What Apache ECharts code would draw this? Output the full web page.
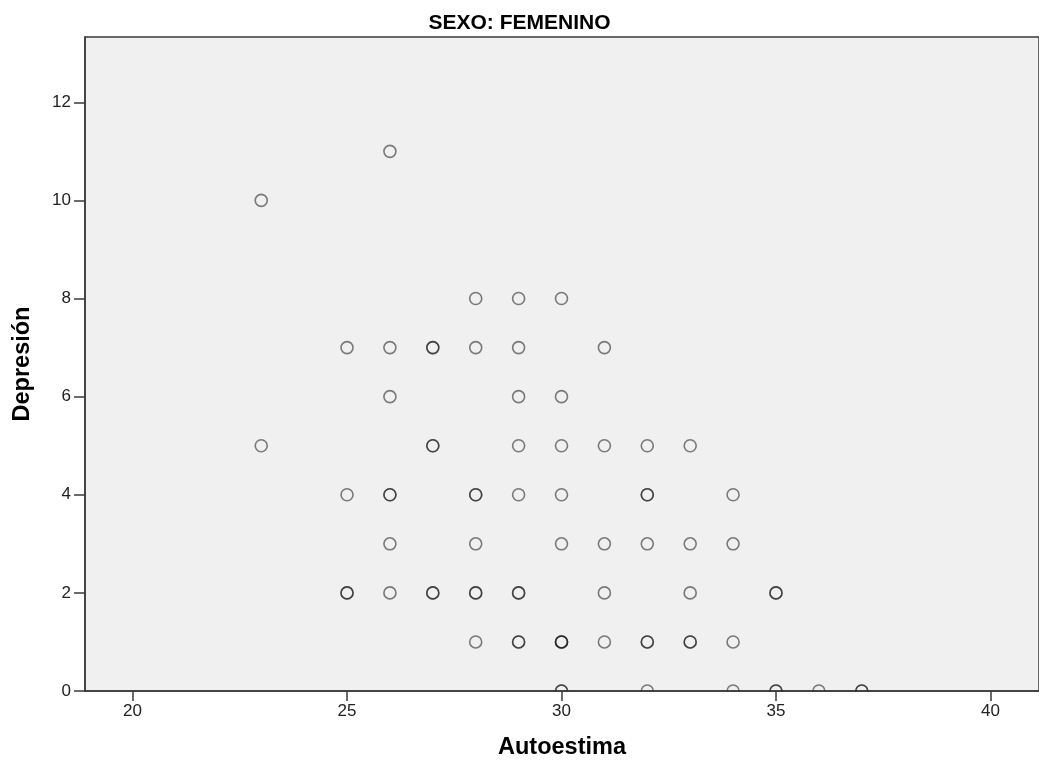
<!DOCTYPE html>
<html><head><meta charset="utf-8">
<script src="https://cdn.jsdelivr.net/npm/echarts@6/dist/echarts.min.js"></script>
<style>html,body{margin:0;padding:0;background:#fff}#c{width:1039px;height:767px}</style>
</head><body><div id="c"></div>
<script>
const title = "SEXO: FEMENINO";
const xName = "Autoestima";
const yName = "Depresión";
const xTicks = [20, 25, 30, 35, 40];
const yTicks = [0, 2, 4, 6, 8, 10, 12];
// Autoestima, Depresión, and number of overlapping cases at that point
const autoestima = [26,23,28,29,30,25,26,27,28,29,31,26,29,30,23,27,29,30,31,32,33,25,26,28,29,30,32,34,26,28,30,31,32,33,34,25,26,27,28,29,31,33,35,28,29,30,31,32,33,34,30,32,34,35,36,37];
const depresion  = [11,10,8,8,8,7,7,7,7,7,7,6,6,6,5,5,5,5,5,5,5,4,4,4,4,4,4,4,3,3,3,3,3,3,3,2,2,2,2,2,2,2,2,1,1,1,1,1,1,1,0,0,0,0,0,0];
const casos      = [1,1,1,1,1,1,1,2,1,1,1,1,1,1,1,2,1,1,1,1,1,1,2,2,1,1,2,1,1,1,1,1,1,1,1,2,1,2,2,2,1,1,2,1,2,3,1,2,2,1,2,1,1,2,1,2];

const pts = [];
autoestima.forEach((x, i) => { for (let k = 0; k < casos[i]; k++) pts.push([x, depresion[i]]); });

const gridLeft = 85, gridTop = 37, gridRight = -3, gridBottom = 76;
const W = 1039, H = 767;
// pixel mapping: 20 -> 132.7px, 1 unit = 43.03px ; 0 -> 691px, 1 unit = 49.06px
const xMin = 20 - (132.7 - gridLeft) / 43.03;
const xMax = 20 + ((W - gridRight) - 132.7) / 43.03;
const yMax = (H - gridBottom - gridTop) / 49.06;

const chart = echarts.init(document.getElementById('c'));
chart.setOption({
  backgroundColor: '#ffffff',
  animation: false,
  title: { text: title, left: 'center', top: 8, textStyle: { fontFamily: 'Liberation Sans', fontSize: 21, fontWeight: 'bold', color: '#000' } },
  grid: { left: gridLeft, top: gridTop, right: gridRight, bottom: gridBottom, show: true, backgroundColor: '#f0f0f0', borderColor: '#3a3a3a', borderWidth: 1.5 },
  graphic: [{ type: 'rect', z: 5, silent: true, shape: { x: gridLeft + 1, y: H - gridBottom + 1, width: W, height: 8 }, style: { fill: '#ffffff' } }],
  xAxis: {
    type: 'value', min: xMin, max: xMax, z: 10,
    name: xName, nameLocation: 'middle', nameGap: 45,
    nameTextStyle: { fontFamily: 'Liberation Sans', fontSize: 23.5, fontWeight: 'bold', color: '#000' },
    axisLine: { show: true, onZero: false, lineStyle: { color: '#3a3a3a', width: 1.5 } },
    axisTick: { show: true, length: 10, customValues: xTicks, lineStyle: { color: '#3a3a3a', width: 1.5 } },
    axisLabel: { customValues: xTicks, fontFamily: 'Liberation Sans', fontSize: 17, color: '#222', margin: 12 },
    splitLine: { show: false }
  },
  yAxis: {
    type: 'value', min: 0, max: yMax, z: 10,
    name: yName, nameLocation: 'middle', nameGap: 50, nameRotate: 90,
    nameTextStyle: { fontFamily: 'Liberation Sans', fontSize: 23.5, fontWeight: 'bold', color: '#000' },
    axisLine: { show: true, onZero: false, lineStyle: { color: '#3a3a3a', width: 1.5 } },
    axisTick: { show: true, length: 11, customValues: yTicks, lineStyle: { color: '#3a3a3a', width: 1.5 } },
    axisLabel: { customValues: yTicks, fontFamily: 'Liberation Sans', fontSize: 17, color: '#222', margin: 14 },
    splitLine: { show: false }
  },
  series: [{
    type: 'scatter', data: pts, symbol: 'circle', symbolSize: 12, clip: true, z: 2,
    itemStyle: { color: 'rgba(0,0,0,0)', borderColor: 'rgba(20,20,20,0.68)', borderWidth: 1.6 }
  }]
});
</script></body></html>
